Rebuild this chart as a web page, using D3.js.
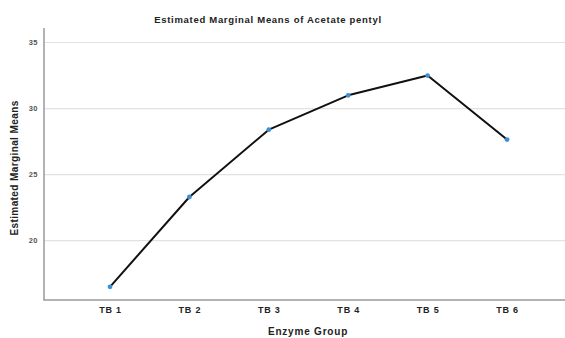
<!DOCTYPE html>
<html>
<head>
<meta charset="utf-8">
<script src="https://cdn.jsdelivr.net/npm/d3@7"></script>
<style>
  html, body { margin: 0; padding: 0; background: #fff; }
  svg { display: block; font-family: "Liberation Sans", Arial, sans-serif; }
</style>
</head>
<body>
<svg id="chart" width="565" height="338"></svg>
<script>
// Estimated marginal means of acetate pentyl per enzyme group
const groups = ["TB 1", "TB 2", "TB 3", "TB 4", "TB 5", "TB 6"];
const means = [16.5, 23.3, 28.4, 31.0, 32.5, 27.65];
const yTicks = [20, 25, 30, 35];

const svg = d3.select("#chart");
const plot = { left: 44, right: 565, top: 28, bottom: 300 };

const x = d3.scalePoint().domain(groups).range([110, 507]);
const y = d3.scaleLinear().domain([15.5, 36.1]).range([plot.bottom, plot.top]);

// horizontal gridlines
svg.append("g")
  .selectAll("line")
  .data(yTicks)
  .join("line")
  .attr("x1", plot.left).attr("x2", plot.right)
  .attr("y1", d => y(d)).attr("y2", d => y(d))
  .attr("stroke", "#e2e2e2").attr("stroke-width", 1.2);

// y axis
const yAxis = svg.append("g")
  .attr("transform", `translate(${plot.left},0)`)
  .call(d3.axisLeft(y).tickValues(yTicks).tickSize(0).tickPadding(6));
yAxis.select(".domain").remove();
yAxis.selectAll("text")
  .attr("fill", "#555").attr("font-size", 7.5).attr("font-weight", "bold")
  .attr("letter-spacing", 0.5);

// x axis
const xAxis = svg.append("g")
  .attr("transform", `translate(0,${plot.bottom})`)
  .call(d3.axisBottom(x).tickSize(0).tickPadding(7));
xAxis.select(".domain").remove();
xAxis.selectAll("text")
  .attr("fill", "#222").attr("font-size", 9).attr("font-weight", "bold")
  .attr("letter-spacing", 0.8);

// axis lines
svg.append("line")
  .attr("x1", plot.left).attr("x2", plot.left)
  .attr("y1", plot.top).attr("y2", plot.bottom)
  .attr("stroke", "#9a9a9a").attr("stroke-width", 1.5);
svg.append("line")
  .attr("x1", plot.left - 0.75).attr("x2", plot.right)
  .attr("y1", plot.bottom).attr("y2", plot.bottom)
  .attr("stroke", "#9a9a9a").attr("stroke-width", 1.5);

// means line
const data = groups.map((g, i) => ({ g, v: means[i] }));
svg.append("path")
  .datum(data)
  .attr("fill", "none")
  .attr("stroke", "#111")
  .attr("stroke-width", 2)
  .attr("stroke-linejoin", "round")
  .attr("d", d3.line().x(d => x(d.g)).y(d => y(d.v)));

svg.append("g")
  .selectAll("circle")
  .data(data)
  .join("circle")
  .attr("cx", d => x(d.g)).attr("cy", d => y(d.v))
  .attr("r", 2.4)
  .attr("fill", "#3b8fd4");

// titles
svg.append("text")
  .attr("x", 268).attr("y", 23)
  .attr("text-anchor", "middle")
  .attr("font-size", 9.5).attr("font-weight", "bold").attr("fill", "#222")
  .attr("letter-spacing", 0.7)
  .text("Estimated Marginal Means of Acetate pentyl");

svg.append("text")
  .attr("x", 308).attr("y", 335)
  .attr("text-anchor", "middle")
  .attr("font-size", 10).attr("font-weight", "bold").attr("fill", "#222")
  .attr("letter-spacing", 0.8)
  .text("Enzyme Group");

svg.append("text")
  .attr("transform", "translate(18,168) rotate(-90)")
  .attr("text-anchor", "middle")
  .attr("font-size", 10).attr("font-weight", "bold").attr("fill", "#222")
  .attr("letter-spacing", 0.4)
  .text("Estimated Marginal Means");
</script>
</body>
</html>
